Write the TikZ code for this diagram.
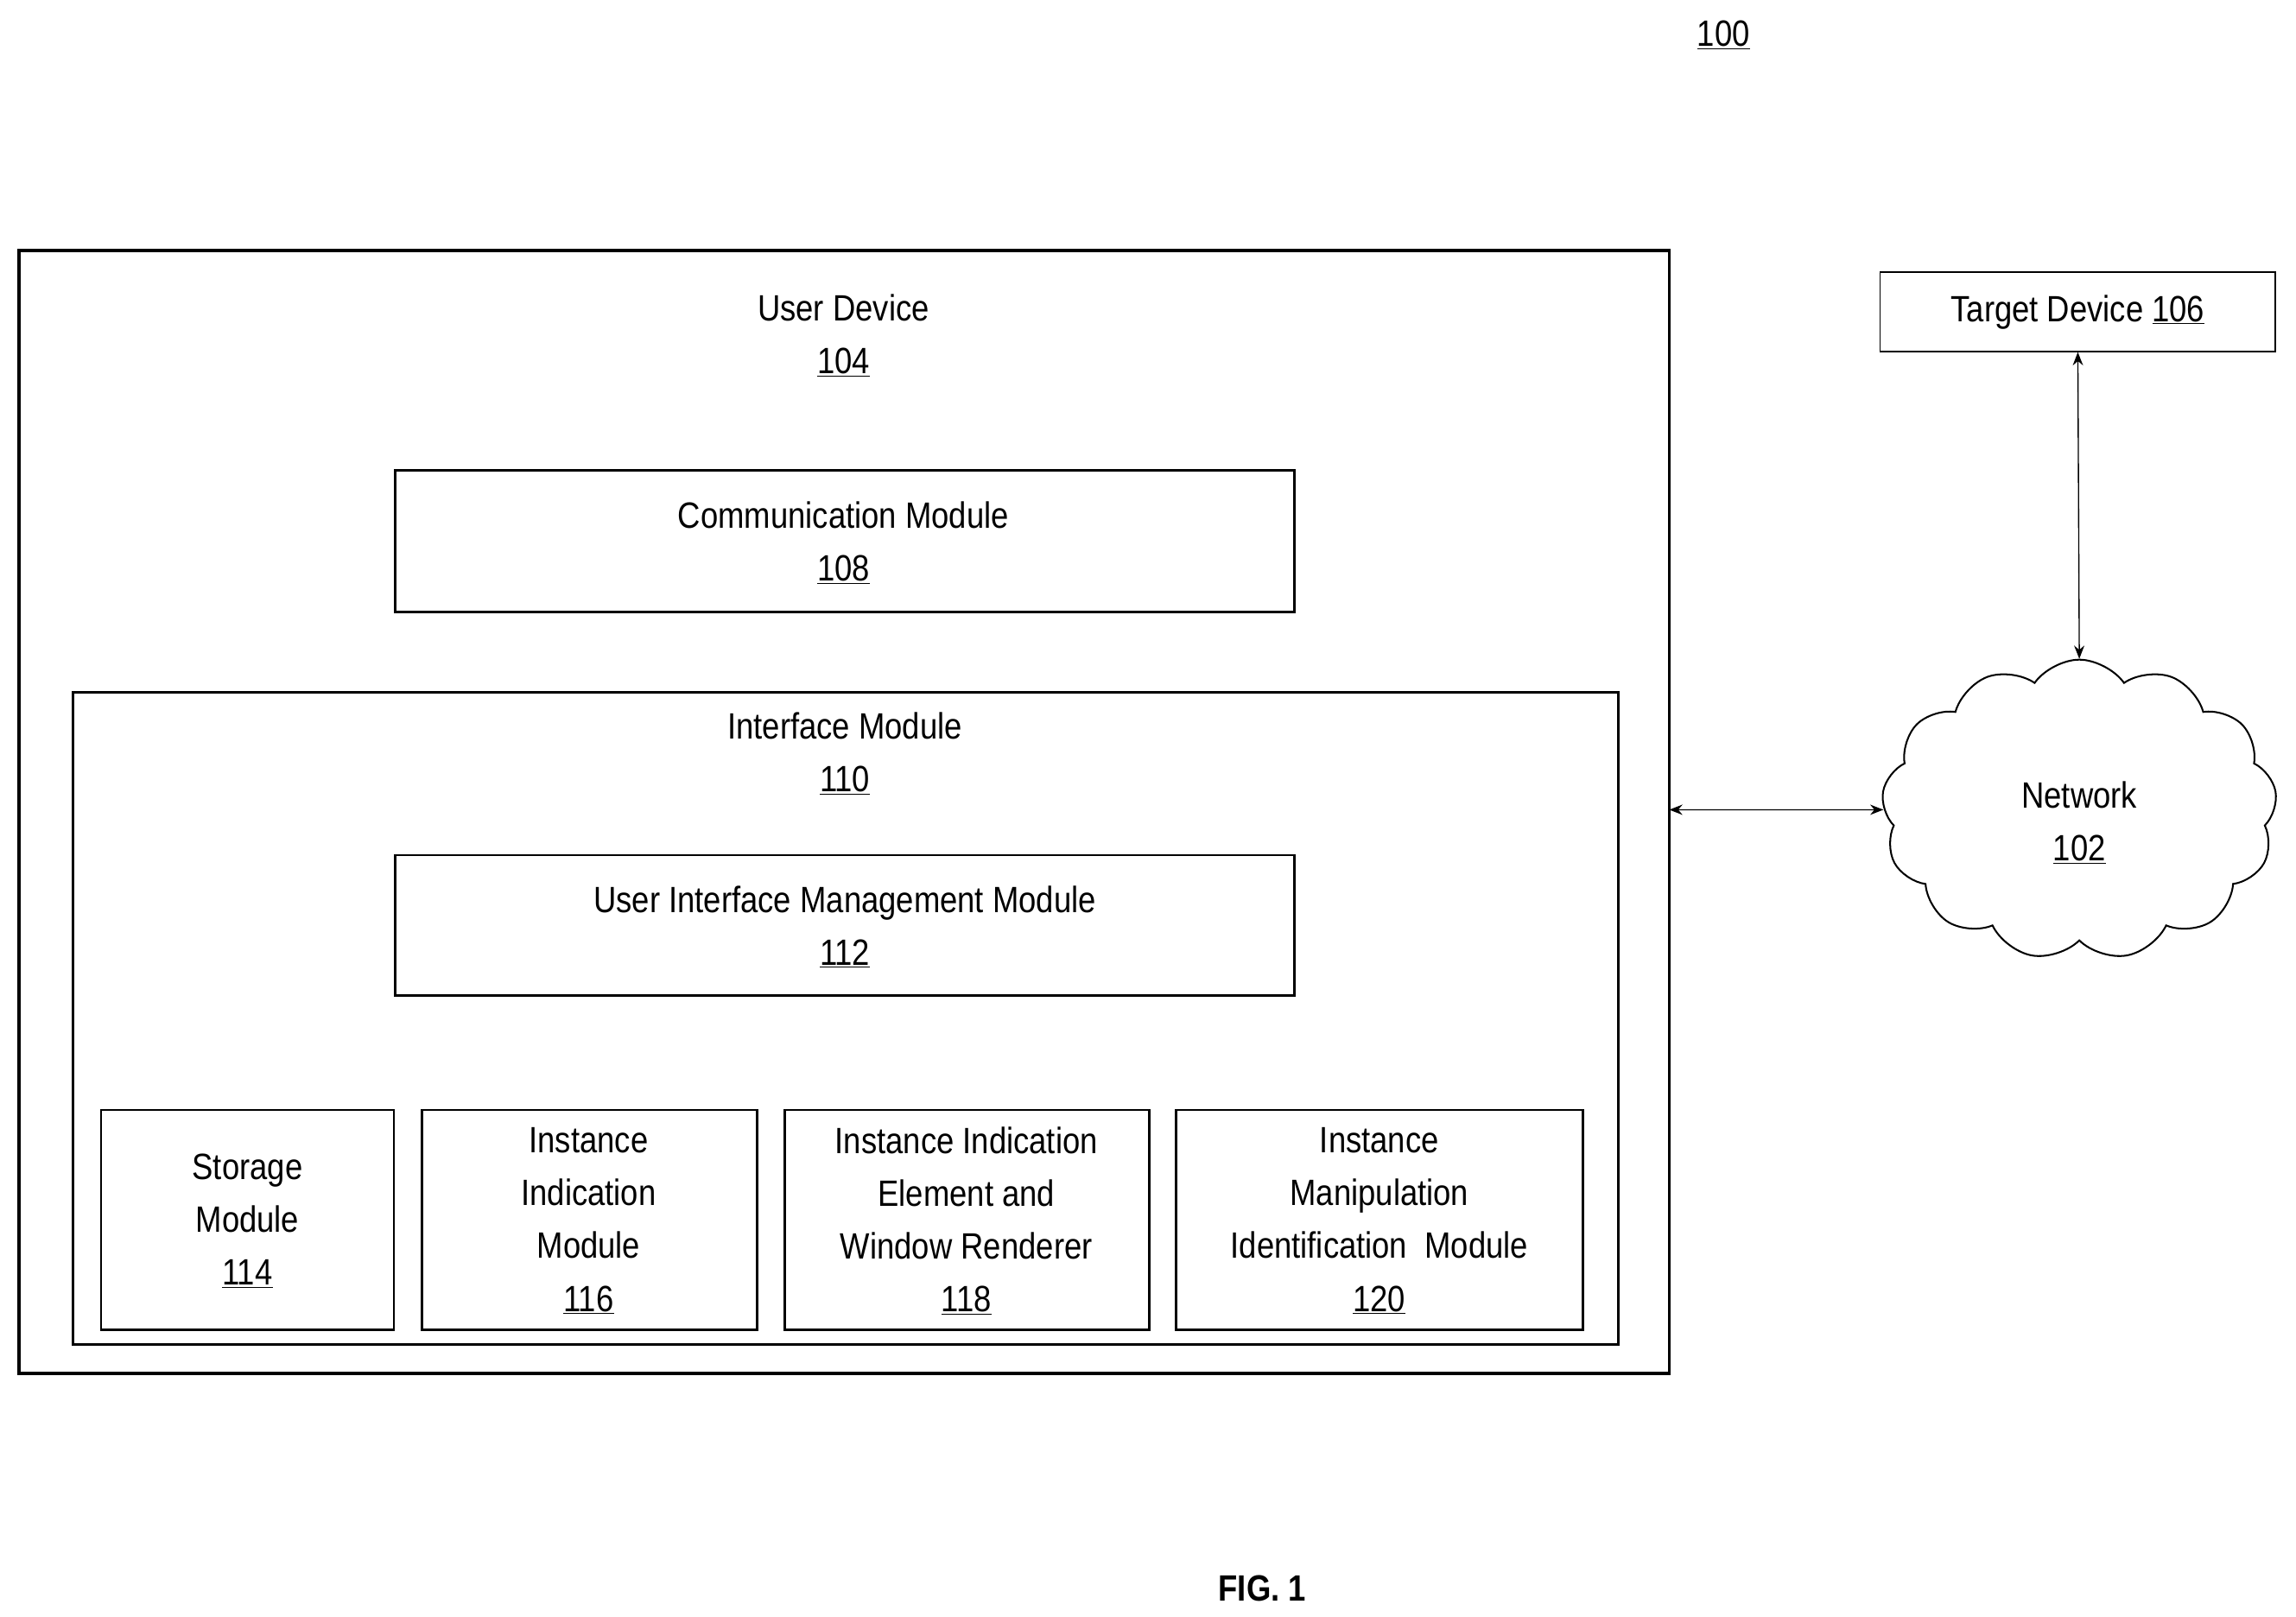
\documentclass[tikz,border=0pt]{standalone}
\usepackage{fontspec}
\setmainfont{Liberation Sans}[FakeStretch=0.86]
\usetikzlibrary{shapes.symbols,arrows.meta}
\begin{document}
\begin{tikzpicture}[x=1pt,y=-1pt,
  box/.style={draw,line width=1.6pt},
  lbl/.style={font=\fontsize{25}{36}\selectfont,align=center,inner sep=0},
  arr/.style={{Stealth[length=9pt,width=7pt]}-{Stealth[length=9pt,width=7pt]},line width=0.8pt}]
\useasboundingbox (0,0) rectangle (1568,1104);
\node[lbl] (n100) at (1177,24) {\underline{100}};
\draw[box,line width=2.2pt] (13,171) rectangle (1140,938);
\coordinate (udr) at (1140,553);
\node[lbl] (ud) at (576,229) {User Device\\\underline{104}};
\draw[box] (270,321) rectangle (884,418);
\node[lbl] (cm) at (576,371) {Communication Module\\\underline{108}};
\draw[box] (50,473) rectangle (1105,918);
\node[lbl] (im) at (577,515) {Interface Module\\\underline{110}};
\draw[box] (270,584) rectangle (884,680);
\node[lbl] (ui) at (577,633) {User Interface Management Module\\\underline{112}};
\draw[box] (69,758) rectangle (269,908);
\node[lbl] (s) at (169,834) {Storage\\Module\\\underline{114}};
\draw[box] (288,758) rectangle (517,908);
\node[lbl] (i1) at (402,834) {Instance\\Indication\\Module\\\underline{116}};
\draw[box] (536,758) rectangle (785,908);
\node[lbl] (i2) at (660,834) {Instance Indication\\Element and\\Window Renderer\\\underline{118}};
\draw[box] (803,758) rectangle (1081,908);
\node[lbl] (i3) at (942,834) {Instance\\Manipulation\\Identification\ \ Module\\\underline{120}};
\node[draw,line width=1pt,minimum width=270pt,minimum height=54pt,lbl] (td) at (1419,213) {Target Device \underline{106}};
\node[cloud,draw,line width=1.2pt,cloud puffs=13,cloud puff arc=110,aspect=1.3,minimum width=270pt,minimum height=205pt] (net) at (1420,553) {};
\node[lbl] at (1420,562) {Network\\\underline{102}};
\draw[arr] (td.south) -- (net.north);
\draw[arr] (udr) -- (net.west);
\node[font=\fontsize{25}{30}\selectfont\bfseries] (fig) at (862,1085) {FIG. 1};
\end{tikzpicture}
\end{document}
